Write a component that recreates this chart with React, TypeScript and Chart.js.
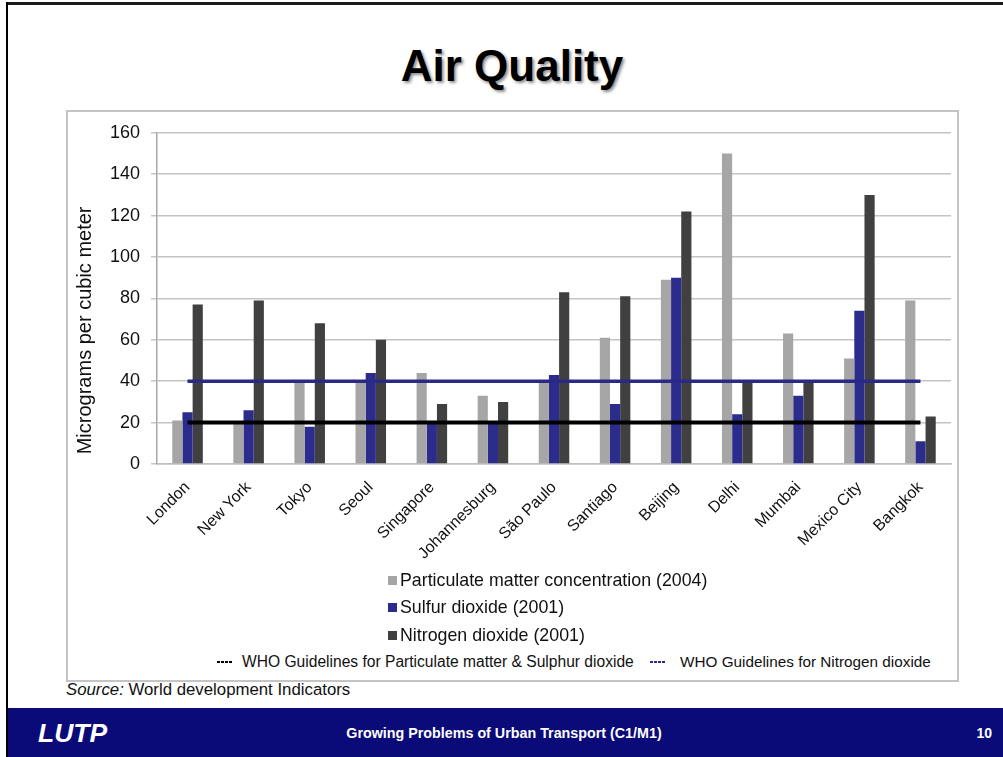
import React, { useEffect, useRef } from 'react';
import { Chart, registerables } from 'chart.js';

Chart.register(...registerables);

const FONT = '"Liberation Sans", Arial, Helvetica, sans-serif';

const categories = ['London', 'New York', 'Tokyo', 'Seoul', 'Singapore', 'Johannesburg', 'São Paulo', 'Santiago', 'Beijing', 'Delhi', 'Mumbai', 'Mexico City', 'Bangkok'];
const particulateMatter = [21, 20, 40, 40, 44, 33, 40, 61, 89, 150, 63, 51, 79];
const sulfurDioxide = [25, 26, 18, 44, 20, 20, 43, 29, 90, 24, 33, 74, 11];
const nitrogenDioxide = [77, 79, 68, 60, 29, 30, 83, 81, 122, 40, 40, 130, 23];
const whoPmSo2Guideline = [20, 20, 20, 20, 20, 20, 20, 20, 20, 20, 20, 20, 20];
const whoNo2Guideline = [40, 40, 40, 40, 40, 40, 40, 40, 40, 40, 40, 40, 40];
const yMin = 0;
const yMax = 160;
const yStep = 20;

const Y_TITLE = 'Micrograms per cubic meter';
const seriesLabels = ['Particulate matter concentration (2004)', 'Sulfur dioxide (2001)', 'Nitrogen dioxide (2001)'];
const guidelineLabels = ['WHO Guidelines for Particulate matter & Sulphur dioxide', 'WHO Guidelines for Nitrogen dioxide'];

const PM_COLOR = '#a6a6a6';
const SO2_COLOR = '#2c2c8c';
const NO2_COLOR = '#404040';
const BLUE_LINE = '#2a2a86';

// Axis title drawn slightly below the axis centre, as in the original slide
const yTitlePlugin = {
  id: 'yTitleOffset',
  afterDraw(chart: any) {
    const { ctx, chartArea } = chart;
    ctx.save();
    ctx.translate(18, (chartArea.top + chartArea.bottom) / 2 + 32);
    ctx.rotate(-Math.PI / 2);
    ctx.font = `20px ${FONT}`;
    ctx.fillStyle = '#111';
    ctx.textAlign = 'center';
    ctx.textBaseline = 'middle';
    ctx.fillText(Y_TITLE, 0, 0);
    ctx.restore();
  },
};

function ChartCanvas() {
  const ref = useRef<HTMLCanvasElement | null>(null);
  useEffect(() => {
    if (!ref.current) return;
    const chart = new Chart(ref.current, {
      type: 'bar',
      data: {
        labels: categories,
        datasets: [
          { type: 'line', label: guidelineLabels[0], data: whoPmSo2Guideline, borderColor: '#000', backgroundColor: '#000', borderWidth: 4, pointRadius: 0, fill: false, order: 0 } as any,
          { type: 'line', label: guidelineLabels[1], data: whoNo2Guideline, borderColor: BLUE_LINE, backgroundColor: BLUE_LINE, borderWidth: 3.5, pointRadius: 0, fill: false, order: 0 } as any,
          { label: seriesLabels[0], data: particulateMatter, backgroundColor: PM_COLOR, categoryPercentage: 0.5, barPercentage: 1.0, order: 1 },
          { label: seriesLabels[1], data: sulfurDioxide, backgroundColor: SO2_COLOR, categoryPercentage: 0.5, barPercentage: 1.0, order: 1 },
          { label: seriesLabels[2], data: nitrogenDioxide, backgroundColor: NO2_COLOR, categoryPercentage: 0.5, barPercentage: 1.0, order: 1 },
        ],
      },
      options: {
        animation: false,
        responsive: false,
        layout: { padding: { top: 19, right: 7, left: 0, bottom: 0 } },
        plugins: { legend: { display: false }, tooltip: { enabled: false } },
        scales: {
          x: {
            grid: { display: false, drawTicks: false },
            border: { display: true, color: '#bfbfbf', width: 1.5 },
            ticks: { autoSkip: false, maxRotation: 45, minRotation: 45, padding: 14, font: { size: 16, family: FONT }, color: '#111' },
            afterFit: (s: any) => { s.height = 107; },
          },
          y: {
            min: yMin,
            max: yMax,
            ticks: { stepSize: yStep, padding: 11, font: { size: 18, family: FONT }, color: '#111' },
            grid: { color: '#c4c4c4', lineWidth: 1.5, tickLength: 6, drawTicks: true },
            border: { display: true, color: '#a8a8a8', width: 1.5 },
            title: { display: false, text: Y_TITLE },
            afterFit: (s: any) => { s.width = 90; },
          },
        },
      } as any,
      plugins: [yTitlePlugin],
    });
    return () => chart.destroy();
  }, []);
  return <canvas ref={ref} width={891} height={460} style={{ position: 'absolute', left: 67, top: 111, width: 891, height: 460 }} />;
}

const dash = (color: string) => ({
  position: 'absolute' as const,
  width: 15,
  height: 2,
  background: `repeating-linear-gradient(to right, ${color} 0 3px, transparent 3px 4px)`,
});

export default function App() {
  const legendRow = (top: number, color: string, text: string) => (
    <div style={{ position: 'absolute', left: 388, top: top - 12, height: 24, display: 'flex', alignItems: 'center', whiteSpace: 'nowrap', fontSize: 17.8, fontFamily: FONT, color: '#111' }}>
      <span style={{ display: 'inline-block', width: 9, height: 9, background: color, marginRight: 3 }} />
      {text}
    </div>
  );
  return (
    <div style={{ position: 'absolute', left: 0, top: 0, width: 1003, height: 757, overflow: 'hidden', background: '#fff', fontFamily: FONT }}>
      {/* slide frame */}
      <div style={{ position: 'absolute', left: 6, top: 2, width: 997, height: 3, background: '#1a1a1a' }} />
      <div style={{ position: 'absolute', left: 6, top: 2, width: 2, height: 755, background: '#000' }} />
      {/* title */}
      <div style={{ position: 'absolute', left: 0, width: 1024, top: 44, height: 44, lineHeight: '44px', textAlign: 'center', fontSize: 44, fontWeight: 'bold', color: '#000', textShadow: '2px 2px 3px rgba(0,0,0,0.45)' }}>Air Quality</div>
      {/* chart box */}
      <div style={{ position: 'absolute', left: 66, top: 110, width: 889, height: 568, border: '2px solid #c4c4c4' }} />
      <ChartCanvas />
      {legendRow(580, PM_COLOR, seriesLabels[0])}
      {legendRow(607, SO2_COLOR, seriesLabels[1])}
      {legendRow(635, NO2_COLOR, seriesLabels[2])}
      <div style={{ ...dash('#000'), left: 217, top: 661 }} />
      <div style={{ position: 'absolute', left: 242, top: 651, height: 22, lineHeight: '22px', fontSize: 15.6, whiteSpace: 'nowrap', color: '#111' }}>{guidelineLabels[0]}</div>
      <div style={{ ...dash(BLUE_LINE), left: 650, top: 661 }} />
      <div style={{ position: 'absolute', left: 680, top: 651, height: 22, lineHeight: '22px', fontSize: 15.3, whiteSpace: 'nowrap', color: '#111' }}>{guidelineLabels[1]}</div>
      {/* source */}
      <div style={{ position: 'absolute', left: 66, top: 679, height: 22, lineHeight: '22px', fontSize: 16.8, whiteSpace: 'nowrap', color: '#111' }}><i>Source:</i> World development Indicators</div>
      {/* footer */}
      <div style={{ position: 'absolute', left: 8, top: 708, width: 995, height: 49, background: '#0a0a78' }}>
        <div style={{ position: 'absolute', left: 30, top: 10, height: 30, lineHeight: '30px', fontSize: 26.5, fontWeight: 'bold', fontStyle: 'italic', color: '#fff' }}>LUTP</div>
        <div style={{ position: 'absolute', left: 0, width: 992, top: 14, height: 22, lineHeight: '22px', textAlign: 'center', fontSize: 14.3, fontWeight: 'bold', color: '#fff' }}>Growing Problems of Urban Transport (C1/M1)</div>
        <div style={{ position: 'absolute', right: 11, top: 14, height: 22, lineHeight: '22px', fontSize: 14, fontWeight: 'bold', color: '#fff' }}>10</div>
      </div>
    </div>
  );
}
